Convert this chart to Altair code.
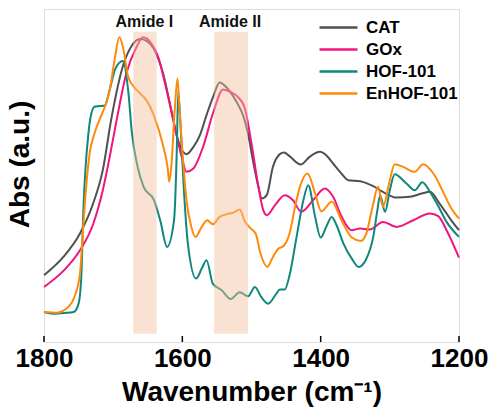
import altair as alt
import pandas as pd

# ---- data (wavenumber in cm-1, absorbance in a.u.) ----
cat_wn = [1800, 1772, 1748, 1729, 1715, 1703, 1685, 1674, 1661, 1650, 1641, 1627, 1617, 1608,
          1594, 1584, 1575, 1565, 1555, 1546, 1536, 1527, 1519, 1512, 1505, 1498, 1490, 1485,
          1478, 1469, 1459, 1453, 1445, 1429, 1416, 1401, 1392, 1382, 1372, 1360, 1343, 1324,
          1310, 1290, 1271, 1254, 1242, 1228, 1213, 1200]
cat_abs = [20.0, 25.5, 32.5, 41.5, 51.5, 66.5, 83.3, 88.5, 90.8, 90.0, 87.8, 79.8, 70.5, 61.8,
           56.3, 58.5, 61.8, 68.0, 73.8, 77.8, 76.3, 73.8, 71.0, 67.8, 62.5, 54.5, 46.5, 43.0,
           44.0, 52.5, 56.3, 56.8, 55.7, 53.2, 55.5, 57.0, 56.0, 53.5, 51.0, 48.5, 48.2, 46.7,
           45.0, 43.3, 43.5, 44.5, 45.0, 41.5, 37.0, 33.5]

gox_wn = [1800, 1772, 1748, 1729, 1715, 1705, 1695, 1681, 1666, 1657, 1645, 1635, 1625, 1613,
          1601, 1594, 1584, 1570, 1555, 1541, 1531, 1519, 1510, 1500, 1490, 1483, 1478, 1466,
          1452, 1440, 1428, 1411, 1394, 1382, 1370, 1355, 1343, 1329, 1310, 1290, 1266, 1242,
          1230, 1218, 1200]
gox_abs = [16.5, 21.3, 27.5, 35.3, 45.5, 55.5, 66.5, 80.5, 88.5, 91.3, 89.5, 85.5, 77.5, 66.5,
           55.5, 51.0, 52.0, 58.5, 69.0, 75.7, 75.0, 73.3, 70.3, 59.5, 46.5, 39.5, 38.0, 41.0,
           44.0, 42.5, 39.0, 42.5, 46.0, 43.5, 37.7, 33.5, 34.0, 33.7, 36.0, 34.5, 36.5, 38.5,
           37.7, 33.5, 25.3]

hof_wn = [1800, 1787, 1770, 1757, 1750, 1746, 1743, 1740, 1736, 1733, 1727, 1720, 1712, 1706,
          1697, 1686, 1678, 1673, 1665, 1656, 1641, 1632, 1622, 1612, 1608, 1606, 1603, 1598,
          1592, 1580, 1572, 1565, 1556, 1543, 1530, 1517, 1505, 1495, 1486, 1476, 1464, 1459,
          1452, 1445, 1435, 1425, 1418, 1408, 1400, 1392, 1384, 1377, 1367, 1355, 1345, 1335,
          1324, 1318, 1314, 1307, 1300, 1293, 1276, 1264, 1253, 1242, 1232, 1218, 1200]
hof_abs = [9.0, 8.5, 8.7, 9.0, 11.5, 20.0, 40.0, 52.0, 62.0, 67.0, 70.5, 70.7, 70.9, 74.8,
           81.8, 84.2, 74.8, 62.8, 52.8, 46.5, 42.5, 36.5, 28.5, 36.5, 57.5, 75.0, 66.5, 46.5,
           29.5, 19.0, 22.0, 24.5, 17.5, 15.5, 12.9, 14.9, 13.7, 16.5, 13.5, 11.5, 14.5, 15.7,
           15.7, 20.0, 31.3, 42.5, 47.0, 37.5, 31.3, 34.5, 37.5, 35.0, 29.5, 25.0, 22.5, 24.5,
           31.5, 39.5, 44.0, 39.0, 45.5, 50.3, 47.5, 45.5, 47.9, 45.0, 41.5, 36.0, 31.5]

en_wn = [1800, 1782, 1765, 1756, 1748, 1744, 1739, 1734, 1727, 1720, 1712, 1705, 1698, 1691,
         1685, 1679, 1671, 1662, 1652, 1641, 1629, 1621, 1619, 1616, 1611, 1607, 1604, 1599,
         1594, 1587, 1581, 1572, 1564, 1556, 1546, 1536, 1527, 1517, 1510, 1501, 1494, 1487,
         1477, 1469, 1461, 1454, 1445, 1437, 1430, 1419, 1408, 1399, 1384, 1370, 1355, 1342,
         1334, 1325, 1317, 1310, 1300, 1293, 1281, 1264, 1252, 1237, 1223, 1211, 1200]
en_abs = [9.0, 8.8, 10.5, 13.5, 20.5, 32.5, 46.5, 56.5, 62.5, 66.5, 70.5, 75.5, 84.5, 91.3,
          87.5, 80.0, 76.7, 74.7, 72.5, 67.8, 59.8, 51.8, 48.0, 52.5, 69.5, 79.0, 69.5, 54.5,
          42.5, 34.5, 31.5, 34.5, 36.5, 35.3, 37.5, 38.3, 38.7, 39.7, 36.3, 34.0, 32.5, 26.5,
          22.5, 25.5, 28.0, 28.7, 32.5, 40.5, 46.5, 50.5, 44.5, 39.2, 42.0, 36.5, 31.3, 30.3,
          32.5, 40.5, 46.5, 40.5, 48.5, 53.3, 52.5, 51.0, 53.3, 50.5, 45.0, 40.0, 37.0]

series_names = ["CAT", "GOx", "HOF-101", "EnHOF-101"]
series_colors = ["#505050", "#F2147E", "#10877D", "#FF8A0A"]

band_labels = ["Amide I", "Amide II"]
band_start = [1671, 1554]
band_end = [1637, 1505]
band_center = [1655, 1531]

tick_values = [1800, 1600, 1400, 1200]

# ---- tables ----
rows = []
for name, wn, ab in zip(series_names, [cat_wn, gox_wn, hof_wn, en_wn],
                        [cat_abs, gox_abs, hof_abs, en_abs]):
    for w, a in zip(wn, ab):
        rows.append({"series": name, "wn": w, "abs": a})
spec_df = pd.DataFrame(rows)

band_df = pd.DataFrame({"label": band_labels, "start": band_start, "end": band_end,
                        "center": band_center, "top": [93.0] * 2, "bottom": [2.5] * 2,
                        "ty": [96.0] * 2})
tick_df = pd.DataFrame({"wn": tick_values})

FONT = "Liberation Sans"
xscale = alt.Scale(domain=[1800, 1200], nice=False)
yscale = alt.Scale(domain=[0, 99.8], nice=False, zero=False)

lines = alt.Chart(spec_df).mark_line(strokeWidth=2, interpolate="monotone").encode(
    x=alt.X("wn:Q", scale=xscale,
            axis=alt.Axis(values=tick_values, ticks=False, domain=False, grid=False,
                          labelFontSize=26, labelFontWeight="bold", labelFont=FONT,
                          labelColor="black", labelPadding=3, labelFlush=False,
                          labelOverlap=False, format="d",
                          title="Wavenumber (cm⁻¹)", titleFontSize=28, titleFont=FONT,
                          titleFontWeight="bold", titleColor="black", titlePadding=7)),
    y=alt.Y("abs:Q", scale=yscale,
            axis=alt.Axis(labels=False, ticks=False, domain=False, grid=False,
                          title="Abs (a.u.)", titleFontSize=28, titleFont=FONT,
                          titleFontWeight="bold", titleColor="black", titlePadding=10,
                          titleY=155)),
    color=alt.Color("series:N",
                    scale=alt.Scale(domain=series_names, range=series_colors),
                    legend=alt.Legend(orient="none", legendX=286, legendY=10, title=None,
                                      symbolType="M-3,0H3", symbolSize=160,
                                      symbolStrokeWidth=2.5, labelFontSize=17,
                                      labelFontWeight="bold", labelFont=FONT,
                                      labelColor="black", rowPadding=4, padding=0,
                                      labelOffset=19)),
    order=alt.Order("wn:Q", sort="descending"),
)

bands = alt.Chart(band_df).mark_rect(color="#F2BE9C", opacity=0.45).encode(
    x="start:Q", x2="end:Q", y="top:Q", y2="bottom:Q")

band_text = alt.Chart(band_df).mark_text(fontSize=16, fontWeight="bold", font=FONT,
                                         color="#111111", baseline="middle").encode(
    x="center:Q", y="ty:Q", text="label:N")

ticks = alt.Chart(tick_df).mark_rule(color="black", strokeWidth=1.5).encode(
    x="wn:Q", y=alt.value(333), y2=alt.value(327))

chart = alt.layer(lines, bands, band_text, ticks).properties(
    width=415, height=333,
    autosize=alt.AutoSizeParams(type="none"),
    padding={"left": 44, "top": 9, "right": 32, "bottom": 68},
).configure_view(stroke="black", strokeWidth=1.5).configure(background="white")

chart.save("out.html", embed_options={"renderer": "svg", "actions": False})
